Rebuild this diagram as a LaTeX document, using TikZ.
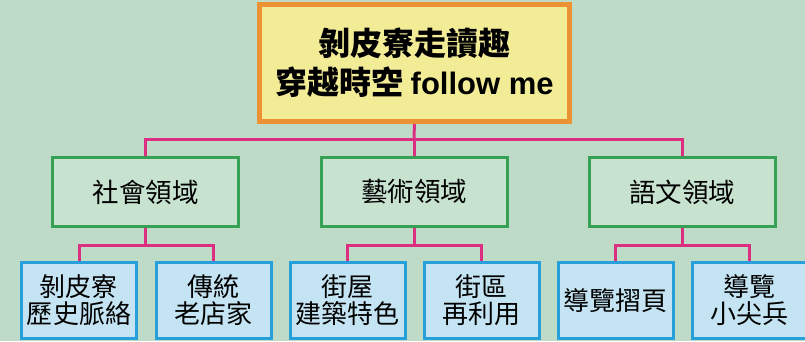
\documentclass[tikz,border=0pt]{standalone}
\usepackage{fontspec}
\newfontfamily\cjk{Noto Sans CJK TC}
\newfontfamily\latsans{Liberation Sans}
\definecolor{bgc}{RGB}{189,219,199}
\definecolor{topfill}{RGB}{243,236,150}
\definecolor{topline}{RGB}{236,146,52}
\definecolor{midfill}{RGB}{200,226,208}
\definecolor{midline}{RGB}{54,160,85}
\definecolor{lowfill}{RGB}{197,228,243}
\definecolor{lowline}{RGB}{39,159,219}
\definecolor{linkc}{RGB}{220,47,129}
\pgfdeclarelayer{bglayer}
\pgfdeclarelayer{linklayer}
\pgfsetlayers{bglayer,linklayer,main}
\tikzset{
  topbox/.style={rectangle, draw=topline, fill=topfill, line width=5pt, minimum width=310pt, minimum height=117pt, inner sep=0pt, outer sep=0pt, align=center, font=\cjk\bfseries\fontsize{32}{39}\selectfont},
  midbox/.style={rectangle, draw=midline, fill=midfill, line width=3pt, minimum width=186pt, minimum height=69pt, inner sep=0pt, outer sep=0pt, align=center, font=\cjk\fontsize{26.5}{27}\selectfont},
  lowbox/.style={rectangle, draw=lowline, fill=lowfill, line width=3pt, minimum width=115pt, minimum height=76pt, inner sep=0pt, outer sep=0pt, align=center, font=\cjk\fontsize{26}{27}\selectfont},
  link/.style={draw=linkc, line width=3pt}
}
\begin{document}
\begin{tikzpicture}[x=1pt,y=-1pt]
\useasboundingbox (0,0) rectangle (805,341);
\clip (0,0) rectangle (805,341);
\begin{pgfonlayer}{bglayer}
\fill[bgc] (0,0) rectangle (805,341);
\end{pgfonlayer}
\coordinate (j0) at (414,139);
\coordinate (ja) at (145.5,245);
\coordinate (jb) at (414,245);
\coordinate (jc) at (682,245);
\node[topbox] (top) at (414.5,63) {剝皮寮走讀趣\\穿越時空 {\latsans\bfseries\fontsize{31}{39}\selectfont follow me}};
\node[midbox] (a) at (145.5,192) {社會領域};
\node[midbox] (b) at (414,192) {藝術領域};
\node[midbox] (c) at (682,192) {語文領域};
\node[lowbox] (a1) at (79,300.5) {剝皮寮\\歷史脈絡};
\node[lowbox] (a2) at (213.5,300.5) {傳統\\老店家};
\node[lowbox] (b1) at (347.5,300.5) {街屋\\建築特色};
\node[lowbox] (b2) at (481.5,300.5) {街區\\再利用};
\node[lowbox] (c1) at (615.5,300.5) {導覽摺頁};
\node[lowbox] (c2) at (749.5,300.5) {導覽\\小尖兵};
\begin{pgfonlayer}{linklayer}
\draw[link] (top.south) -- (j0);
\draw[link] (a.north) |- (j0) -| (c.north);
\draw[link] (j0) -- (b.north);
\draw[link] (a.south) -- (ja);
\draw[link] (a1.north) |- (ja) -| (a2.north);
\draw[link] (b.south) -- (jb);
\draw[link] (b1.north) |- (jb) -| (b2.north);
\draw[link] (c.south) -- (jc);
\draw[link] (c1.north) |- (jc) -| (c2.north);
\end{pgfonlayer}
\end{tikzpicture}
\end{document}
